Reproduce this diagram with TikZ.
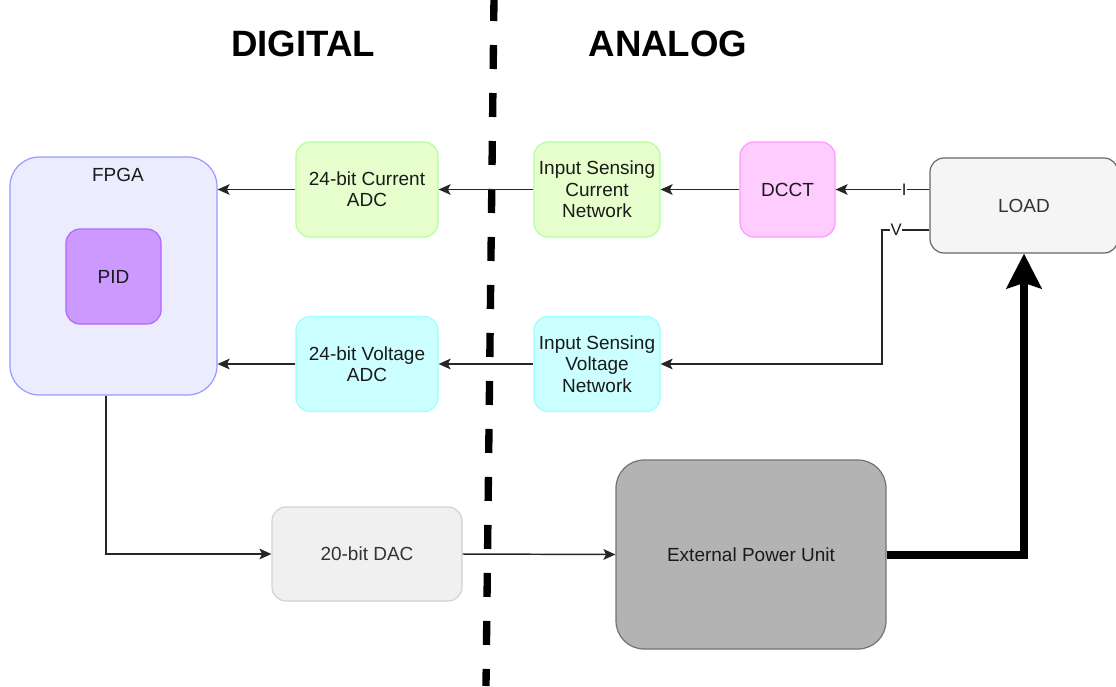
\documentclass[tikz,border=0pt]{standalone}
\usepackage{fontspec}
\setmainfont{Liberation Sans}
\usetikzlibrary{arrows.meta, calc, positioning}
\definecolor{fpgafill}{RGB}{236,236,255}
\definecolor{fpgaline}{RGB}{153,153,255}
\definecolor{pidfill}{RGB}{204,153,255}
\definecolor{pidline}{RGB}{178,102,255}
\definecolor{grnfill}{RGB}{230,255,204}
\definecolor{grnline}{RGB}{179,255,153}
\definecolor{cyanfill}{RGB}{204,255,255}
\definecolor{cyanline}{RGB}{153,255,255}
\definecolor{pinkfill}{RGB}{255,204,255}
\definecolor{pinkline}{RGB}{255,153,255}
\definecolor{loadfill}{RGB}{245,245,245}
\definecolor{dacfill}{RGB}{240,240,240}
\definecolor{dacline}{RGB}{210,210,210}
\definecolor{epufill}{RGB}{179,179,179}
\definecolor{txt}{RGB}{26,26,26}

\begin{document}
\begin{tikzpicture}[x=0.75pt,y=-0.75pt,
  box/.style={draw,rounded corners=10.5pt,line width=0.9pt,align=center,
    text=txt,font=\fontsize{14.25}{16}\selectfont,minimum height=71.25pt,inner sep=2pt},
  adcbox/.style={box,minimum width=106.5pt},
  netbox/.style={box,minimum width=94.5pt},
  title/.style={font=\fontsize{27.5}{33}\selectfont\bfseries,text=black},
  lbl/.style={fill=white,inner sep=0.5pt,text=txt,font=\fontsize{12.5}{14}\selectfont},
  arr/.style={-{Stealth[length=9pt,width=8pt,inset=2pt]},line width=1.1pt,black!85},
  power/.style={-{Stealth[length=26pt,width=26pt,inset=4pt]},line width=6pt,black},
  divider/.style={line width=5.5pt,dash pattern=on 18pt off 18pt}]
\useasboundingbox (0,0) rectangle (1116,686);

\draw[divider] (494,-3) -- (486,686);
\node[title] (digital) at (303,44) {DIGITAL};
\node[title] (analog) at (668,44) {ANALOG};

\node[box,rounded corners=22pt,fill=fpgafill,draw=fpgaline,minimum width=155.25pt,minimum height=178.5pt] (FPGA) at (113.5,276) {};
\node[text=txt,font=\fontsize{14.25}{16}\selectfont] (fpgatxt) at (118,175) {FPGA};
\node[box,fill=pidfill,draw=pidline,minimum width=71.25pt] (PID) at (113.5,276.5) {PID};

\node[adcbox,fill=grnfill,draw=grnline] (CADC) at (367,189.5) {24-bit Current\\ADC};
\node[netbox,fill=grnfill,draw=grnline] (ISC) at (597,189.5) {Input Sensing\\Current\\Network};
\node[box,fill=pinkfill,draw=pinkline,minimum width=71.25pt] (DCCT) at (787.5,189.5) {DCCT};
\node[box,fill=loadfill,draw=black!60,minimum width=141pt,text=black!80] (LOAD) at (1024,205.5) {LOAD};

\node[adcbox,fill=cyanfill,draw=cyanline] (VADC) at (367,364) {24-bit Voltage\\ADC};
\node[netbox,fill=cyanfill,draw=cyanline] (ISV) at (597,364) {Input Sensing\\Voltage\\Network};

\node[box,fill=dacfill,draw=dacline,minimum width=142.5pt,minimum height=70.5pt,text=black!80] (DAC) at (367,554) {20-bit DAC};
\node[box,rounded corners=21pt,fill=epufill,draw=black!55,minimum width=202.5pt,minimum height=141.75pt] (EPU) at (751,554.5) {External Power Unit};

\coordinate (vtap) at ($(LOAD.west)+(0,24.5)$);
\coordinate (vbend) at (882,230);

\draw[arr] (LOAD.west |- DCCT.east) -- node[lbl,pos=0.27]{I} (DCCT.east);
\draw[arr] (DCCT.west) -- (ISC.east);
\draw[arr] (ISC.west) -- (CADC.east);
\draw[arr] (CADC.west) -- (FPGA.east |- CADC.west);
\draw[arr] (vtap) -- node[lbl,pos=0.7]{V} (vbend) |- (ISV.east);
\draw[arr] (ISV.west) -- (VADC.east);
\draw[arr] (VADC.west) -- (FPGA.east |- VADC.west);
\draw[arr] ($(FPGA.south)+(-7.5,0)$) |- (DAC.west);
\draw[arr] (DAC.east) -- (EPU.west);
\draw[power] (EPU.east) -| (LOAD.south);
\end{tikzpicture}
\end{document}
